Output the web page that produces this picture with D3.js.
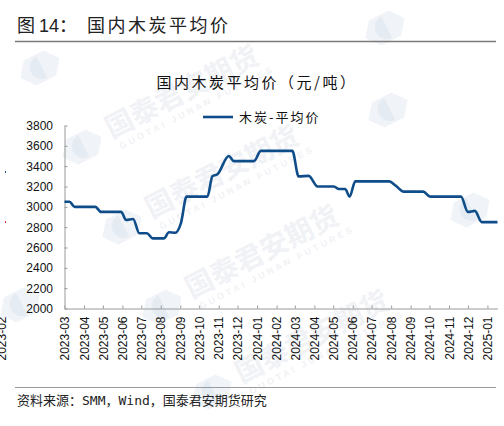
<!DOCTYPE html>
<html lang="zh">
    <head>
        <meta charset="UTF-8">
        <title>国内木炭平均价</title>
        <style>
            html, body { margin: 0; padding: 0; background: #fff; }
            svg { display: block; }
        </style>
    </head>
    <body>
        <script src="https://cdn.jsdelivr.net/npm/d3@7"></script>
        <script>
            // readings: start/end of each flat step
            const dates = [
                "2023-03-01", "2023-03-09", "2023-03-17", "2023-04-19", "2023-04-28", "2023-05-30",
                "2023-06-07", "2023-06-18", "2023-06-28", "2023-07-10", "2023-07-19", "2023-08-06",
                "2023-08-14", "2023-08-24", "2023-09-02", "2023-09-11", "2023-10-14", "2023-10-22",
                "2023-10-30", "2023-11-17", "2023-11-25", "2023-12-27", "2024-01-07", "2024-02-26",
                "2024-03-07", "2024-03-23", "2024-04-06", "2024-05-02", "2024-05-10", "2024-05-20",
                "2024-05-27", "2024-06-05", "2024-07-29", "2024-08-08", "2024-08-21", "2024-09-21",
                "2024-10-02", "2024-11-20", "2024-12-01", "2024-12-12", "2024-12-23", "2025-01-17"
            ];
            const prices = [
                3050, 3050, 3000, 3000, 2950, 2950,
                2870, 2880, 2740, 2740, 2690, 2690,
                2750, 2745, 2840, 3100, 3100, 3300,
                3320, 3500, 3450, 3450, 3550, 3550,
                3300, 3305, 3200, 3200, 3175, 3175,
                3100, 3250, 3250, 3210, 3150, 3150,
                3100, 3100, 2950, 2960, 2850, 2850
            ];
            const monthTicks = [
                "2023-03", "2023-04", "2023-05", "2023-06", "2023-07", "2023-08", "2023-09",
                "2023-10", "2023-11", "2023-12", "2024-01", "2024-02", "2024-03", "2024-04",
                "2024-05", "2024-06", "2024-07", "2024-08", "2024-09", "2024-10", "2024-11",
                "2024-12", "2025-01"
            ];
            const yTicks = [2000, 2200, 2400, 2600, 2800, 3000, 3200, 3400, 3600, 3800];

            const W = 504, H = 426;
            const margin = {top: 125.5, right: 6.5, bottom: 117.5, left: 64.5};
            const parse = d3.utcParse("%Y-%m-%d");
            const parseMonth = d3.utcParse("%Y-%m");
            const data = dates.map((d, i) => ({date: parse(d), price: prices[i]}));

            const svg = d3.select("body")
                .append("svg")
                .attr("width", W)
                .attr("height", H)
                .style("font-family", "'Noto Sans CJK SC', sans-serif");

            // faint company watermark: full tiles where they fit, bare logos near the edges
            const tiles = [[82, 147], [122, 227], [162, 307], [212, 392]];
            const logos = [[40, 68], [385, 28], [388, 110], [470, 210], [20, 305]];
            const wm = svg.append("g").attr("id", "watermark");
            const addLogo = (g) => {
                g.append("path")
                    .attr("d", "M-22,0 L-11,-14 L11,-14 L22,0 L11,14 L-11,14 Z")
                    .attr("fill", "#f0f3f7");
                g.append("path")
                    .attr("d", "M2,-12 A12,12 0 0,0 2,12 Z")
                    .attr("fill", "#e4ebf3");
            };
            tiles.forEach(([mx, my]) => {
                const g = wm.append("g").attr("transform", "translate(" + mx + "," + my + ") rotate(-27)");
                addLogo(g);
                g.append("text")
                    .attr("x", 30).attr("y", 6)
                    .attr("font-size", 28)
                    .attr("font-weight", "bold")
                    .attr("fill", "#f0f2f6")
                    .text("国泰君安期货");
                g.append("text")
                    .attr("x", 34).attr("y", 20)
                    .attr("font-size", 9)
                    .attr("letter-spacing", 3)
                    .attr("font-family", "'Liberation Sans', Arial, sans-serif")
                    .attr("font-weight", "bold")
                    .attr("fill", "#f0f2f6")
                    .text("GUOTAI JUNAN FUTURES");
            });
            logos.forEach(([mx, my]) => {
                addLogo(wm.append("g").attr("transform", "translate(" + mx + "," + my + ") rotate(-27)"));
            });

            // heading
            svg.append("text")
                .attr("x", 17)
                .attr("y", 32)
                .attr("font-size", 18)
                .attr("fill", "#222")
                .html("图 <tspan font-family=\"'Liberation Sans', Arial\">14</tspan>：<tspan x=\"87\" letter-spacing=\"2.5\">国内木炭平均价</tspan>");

            svg.append("line")
                .attr("x1", 15).attr("x2", 496)
                .attr("y1", 41.5).attr("y2", 41.5)
                .attr("stroke", "#7a7a7a")
                .attr("stroke-width", 1.5);

            svg.append("text")
                .attr("x", 257)
                .attr("y", 88)
                .attr("text-anchor", "middle")
                .attr("font-size", 15)
                .attr("letter-spacing", 2.5)
                .attr("fill", "#111")
                .text("国内木炭平均价（元/吨）");

            // legend
            const legend = svg.append("g").attr("id", "legend");
            legend.append("line")
                .attr("x1", 203).attr("x2", 233)
                .attr("y1", 117).attr("y2", 117)
                .attr("stroke", "#0f4c8a")
                .attr("stroke-width", 2.6);
            legend.append("text")
                .attr("x", 239)
                .attr("y", 122)
                .attr("font-size", 13)
                .attr("letter-spacing", 2)
                .attr("fill", "#111")
                .text("木炭-平均价");

            const xScale = d3.scaleUtc()
                .domain([parse("2023-03-01"), parse("2025-01-17")])
                .range([margin.left, W - margin.right]);

            const yScale = d3.scaleLinear()
                .domain([2000, 3800])
                .range([H - margin.bottom, margin.top]);

            const xAxis = svg.append("g")
                .attr("id", "x-axis")
                .attr("transform", "translate(0," + (H - margin.bottom) + ")")
                .call(d3.axisBottom(xScale)
                    .tickValues(monthTicks.map(parseMonth))
                    .tickFormat(d3.utcFormat("%Y-%m"))
                    .tickSizeInner(-3)
                    .tickSizeOuter(0)
                    .tickPadding(8));
            xAxis.select(".domain").attr("stroke", "#9a9a9a");
            xAxis.selectAll(".tick line").attr("stroke", "#9a9a9a");
            xAxis.selectAll(".tick text")
                .attr("transform", "rotate(-90)")
                .attr("x", -8)
                .attr("y", 0)
                .attr("dy", "0.35em")
                .attr("text-anchor", "end")
                .attr("font-size", 12)
                .attr("font-family", "'Liberation Sans', Arial, sans-serif")
                .attr("fill", "#111");

            const yAxis = svg.append("g")
                .attr("id", "y-axis")
                .attr("transform", "translate(" + margin.left + ",0)")
                .call(d3.axisLeft(yScale)
                    .tickValues(yTicks)
                    .tickFormat(d3.format("d"))
                    .tickSizeInner(-3)
                    .tickSizeOuter(0)
                    .tickPadding(11.5));
            yAxis.select(".domain").attr("stroke", "#9a9a9a");
            yAxis.selectAll(".tick line").attr("stroke", "#9a9a9a");
            yAxis.selectAll(".tick text")
                .attr("font-size", 12)
                .attr("font-family", "'Liberation Sans', Arial, sans-serif")
                .attr("fill", "#111");

            // clipped leftover label and stray marks seen at the left edge
            svg.append("text")
                .attr("transform", "translate(2," + (H - margin.bottom + 8) + ") rotate(-90)")
                .attr("dy", "0.35em")
                .attr("text-anchor", "end")
                .attr("font-size", 12)
                .attr("font-family", "'Liberation Sans', Arial, sans-serif")
                .attr("fill", "#111")
                .text("2023-02");
            svg.append("rect").attr("x", 5).attr("y", 171).attr("width", 1).attr("height", 2).attr("fill", "#1f4e8c");
            svg.append("rect").attr("x", 5).attr("y", 221).attr("width", 1).attr("height", 2).attr("fill", "#d33");

            const line = d3.line()
                .x(d => xScale(d.date))
                .y(d => yScale(d.price))
                .curve(d3.curveMonotoneX);

            svg.append("path")
                .datum(data)
                .attr("d", line)
                .attr("fill", "none")
                .attr("stroke", "#0f4c8a")
                .attr("stroke-width", 2.6)
                .attr("stroke-linejoin", "round");

            // footer
            svg.append("line")
                .attr("x1", 15).attr("x2", 496)
                .attr("y1", 387.5).attr("y2", 387.5)
                .attr("stroke", "#9a9a9a")
                .attr("stroke-width", 1);

            svg.append("text")
                .attr("x", 17)
                .attr("y", 405)
                .attr("font-size", 13)
                .attr("fill", "#222")
                .attr("font-family", "'DejaVu Sans Mono', 'Noto Sans CJK SC', monospace")
                .text("资料来源：SMM，Wind，国泰君安期货研究");
        </script>
    </body>
</html>
